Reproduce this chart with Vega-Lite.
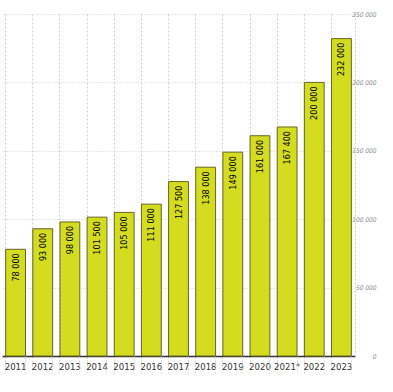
{
  "$schema": "https://vega.github.io/schema/vega-lite/v6.json",
  "width": 353,
  "height": 342,
  "autosize": {"type": "none"},
  "padding": {"left": 2, "top": 14, "right": 38, "bottom": 36},
  "background": "white",
  "config": {"view": {"stroke": null}},
  "data": {
    "values": [
      {"year": "2011", "value": 78000, "label": "78 000"},
      {"year": "2012", "value": 93000, "label": "93 000"},
      {"year": "2013", "value": 98000, "label": "98 000"},
      {"year": "2014", "value": 101500, "label": "101 500"},
      {"year": "2015", "value": 105000, "label": "105 000"},
      {"year": "2016", "value": 111000, "label": "111 000"},
      {"year": "2017", "value": 127500, "label": "127 500"},
      {"year": "2018", "value": 138000, "label": "138 000"},
      {"year": "2019", "value": 149000, "label": "149 000"},
      {"year": "2020", "value": 161000, "label": "161 000"},
      {"year": "2021*", "value": 167400, "label": "167 400"},
      {"year": "2022", "value": 200000, "label": "200 000"},
      {"year": "2023", "value": 232000, "label": "232 000"}
    ]
  },
  "resolve": {"axis": {"x": "independent"}},
  "layer": [
    {
      "mark": {"type": "bar", "fill": "#d4dc1f", "stroke": "#66661f", "strokeWidth": 1},
      "encoding": {
        "x": {
          "field": "year", "type": "nominal", "sort": null,
          "scale": {"paddingInner": 0.27, "paddingOuter": 0.135},
          "axis": {
            "orient": "bottom", "title": null, "labelAngle": 0,
            "bandPosition": 0, "grid": true, "gridColor": "#cfcfcf", "gridDash": [2, 2],
            "ticks": true, "tickSize": 17, "tickColor": "#cfcfcf", "tickDash": [2, 2],
            "domain": true, "domainColor": "#333333", "domainWidth": 1.5,
            "labelPadding": -12,
            "labelFont": "DejaVu Sans Condensed", "labelFontSize": 9.5, "labelColor": "#333333",
            "labelBaseline": "top"
          }
        },
        "y": {
          "field": "value", "type": "quantitative",
          "scale": {"domain": [0, 250000], "nice": false},
          "axis": {
            "orient": "right", "title": null, "values": [0, 50000, 100000, 150000, 200000, 250000],
            "labelExpr": "replace(format(datum.value, ',d'), ',', ' ')",
            "grid": true, "gridColor": "#cfcfcf", "gridDash": [1, 2],
            "ticks": false, "labelPadding": 21, "labelAlign": "right",
            "labelFont": "DejaVu Sans Condensed", "labelFontSize": 6.5, "labelFontStyle": "italic", "labelColor": "#8a8a8a",
            "domain": true, "domainColor": "#cfcfcf", "domainDash": [2, 2]
          }
        }
      }
    },
    {
      "mark": {"type": "text", "angle": 270, "align": "right", "baseline": "middle", "dx": -4, "font": "DejaVu Sans Condensed", "fontSize": 9, "color": "#000000"},
      "encoding": {
        "x": {
          "field": "year", "type": "nominal", "sort": null,
          "axis": {
            "orient": "bottom", "title": null, "labels": false, "grid": false, "domain": false,
            "bandPosition": 1, "ticks": true, "tickSize": 17, "tickColor": "#cfcfcf", "tickDash": [2, 2]
          }
        },
        "y": {"field": "value", "type": "quantitative"},
        "text": {"field": "label"}
      }
    }
  ]
}
